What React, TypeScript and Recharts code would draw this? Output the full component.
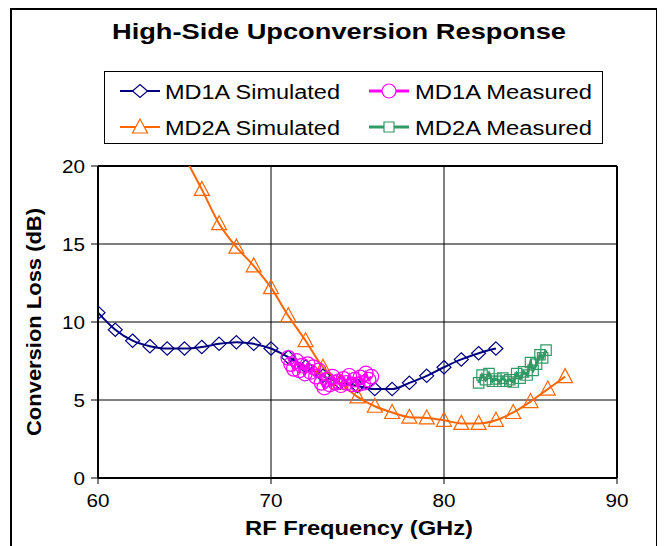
import React from 'react';
import { LineChart, Line, XAxis, YAxis, CartesianGrid, Legend, ReferenceLine } from 'recharts';

const chartTitle = 'High-Side Upconversion Response';
const xAxisTitle = 'RF Frequency (GHz)';
const yAxisTitle = 'Conversion Loss (dB)';
const xTicks = [60, 70, 80, 90];
const yTicks = [0, 5, 10, 15, 20];
const seriesNames = ['MD1A Simulated', 'MD1A Measured', 'MD2A Simulated', 'MD2A Measured'];

const md1aSimX = [60, 61, 62, 63, 64, 65, 66, 67, 68, 69, 70, 71, 72, 73, 74, 75, 76, 77, 78, 79, 80, 81, 82, 83];
const md1aSimY = [10.6, 9.5, 8.8, 8.45, 8.3, 8.3, 8.4, 8.6, 8.7, 8.6, 8.3, 7.75, 7.15, 6.55, 6.1, 5.9, 5.7, 5.7, 6.1, 6.55, 7.1, 7.6, 8.0, 8.3];

const md2aSimX = [65, 66, 67, 68, 69, 70, 71, 72, 73, 74, 75, 76, 77, 78, 79, 80, 81, 82, 83, 84, 85, 86, 87];
const md2aSimY = [20.6, 18.5, 16.3, 14.8, 13.6, 12.2, 10.4, 8.8, 7.1, 6.1, 5.2, 4.6, 4.2, 3.9, 3.85, 3.7, 3.5, 3.5, 3.7, 4.2, 4.9, 5.7, 6.5];

const md1aMeasX = [71.0, 71.16, 71.32, 71.48, 71.64, 71.8, 71.96, 72.12, 72.28, 72.44, 72.6, 72.76, 72.92, 73.08, 73.24, 73.4, 73.56, 73.72, 73.88, 74.04, 74.2, 74.36, 74.52, 74.68, 74.84, 75.0, 75.16, 75.32, 75.48, 75.64, 75.8];
const md1aMeasY = [7.7, 7.3, 7.0, 7.5, 6.9, 7.2, 6.7, 7.3, 6.8, 7.1, 6.5, 6.9, 6.1, 5.8, 6.3, 6.0, 6.5, 6.1, 6.2, 5.95, 6.35, 6.1, 6.55, 6.0, 6.3, 6.0, 6.45, 6.1, 6.7, 6.3, 6.5];

const md2aMeasX = [82.0, 82.2, 82.4, 82.6, 82.8, 83.0, 83.2, 83.4, 83.6, 83.8, 84.0, 84.2, 84.4, 84.6, 84.8, 85.0, 85.15, 85.35, 85.55, 85.7, 85.9];
const md2aMeasY = [6.1, 6.6, 6.3, 6.7, 6.2, 6.35, 6.2, 6.4, 6.2, 6.3, 6.15, 6.7, 6.4, 6.8, 6.6, 7.4, 6.9, 7.3, 7.9, 7.7, 8.2];

const rows = (xs: number[], ys: number[]) => xs.map((x, i) => ({ x, y: ys[i] }));
const md1aSim = rows(md1aSimX, md1aSimY);
const md2aSim = rows(md2aSimX, md2aSimY);
const md1aMeas = rows(md1aMeasX, md1aMeasY);
const md2aMeas = rows(md2aMeasX, md2aMeasY);

const NAVY = '#000080';
const ORANGE = '#FF6600';
const MAGENTA = '#FF00FF';
const GREEN = '#339966';
const FONT = '"Liberation Sans", Arial, sans-serif';

const diamondPath = (cx: number, cy: number, w = 7, h = 6.7) =>
  `M${cx},${cy - h}L${cx + w},${cy}L${cx},${cy + h}L${cx - w},${cy}Z`;
const trianglePath = (cx: number, cy: number) =>
  `M${cx},${cy - 8}L${cx + 7.5},${cy + 6}L${cx - 7.5},${cy + 6}Z`;
const squarePath = (cx: number, cy: number, s = 5.2) =>
  `M${cx - s},${cy - s}L${cx + s},${cy - s}L${cx + s},${cy + s}L${cx - s},${cy + s}Z`;

const makeDot = (kind: string, color: string) => (props: any) => {
  const { cx, cy, index } = props;
  if (cx == null || cy == null || isNaN(cx) || isNaN(cy)) return <g key={`e${index}`} />;
  if (kind === 'circle')
    return <circle key={`c${index}`} cx={cx} cy={cy} r={7.3} fill="none" stroke={color} strokeWidth={1.2} />;
  const d = kind === 'diamond' ? diamondPath(cx, cy) : kind === 'triangle' ? trianglePath(cx, cy) : squarePath(cx, cy);
  return <path key={`p${index}`} d={d} fill="none" stroke={color} strokeWidth={1.2} />;
};

const SText = ({ x, y, len, size, bold, anchor = 'start', transform, children }: any) => (
  <text
    x={x}
    y={y}
    fontFamily={FONT}
    fontSize={size}
    fontWeight={bold ? 700 : 400}
    textAnchor={anchor}
    textLength={len}
    lengthAdjust="spacingAndGlyphs"
    transform={transform}
    fill="#000"
  >
    {children}
  </text>
);

const YTick = (props: any) => {
  const { x, y, payload } = props;
  const s = String(payload.value);
  return (
    <SText x={x} y={y + 6.5} size={18} anchor="end" len={s.length * 11.5}>
      {s}
    </SText>
  );
};

const XTick = (props: any) => {
  const { x, y, payload } = props;
  const s = String(payload.value);
  return (
    <SText x={x} y={y + 13} size={18} anchor="middle" len={s.length * 11.5}>
      {s}
    </SText>
  );
};

const LegendIcon = ({ x, y, kind, color, width }: any) => {
  let marker: any;
  if (kind === 'diamond') marker = <path d={diamondPath(x + 20, y, 7.5, 6.5)} fill="#fff" stroke={color} strokeWidth={1.2} />;
  else if (kind === 'triangle') marker = <path d={trianglePath(x + 20, y)} fill="#fff" stroke={color} strokeWidth={1.2} />;
  else if (kind === 'circle') marker = <circle cx={x + 20} cy={y} r={7} fill="#fff" stroke={color} strokeWidth={1.2} />;
  else marker = <path d={squarePath(x + 20, y, 5)} fill="#fff" stroke={color} strokeWidth={1.2} />;
  return (
    <g>
      <line x1={x} x2={x + 40} y1={y} y2={y} stroke={color} strokeWidth={width} />
      {marker}
    </g>
  );
};

const LegendBox = () => (
  <svg width={499} height={73} style={{ display: 'block' }}>
    <rect x={0.5} y={0.5} width={498} height={72} fill="#fff" stroke="#000" strokeWidth={1} />
    <LegendIcon x={16} y={20} kind="diamond" color={NAVY} width={2} />
    <SText x={61} y={28} size={20} len={175}>{seriesNames[0]}</SText>
    <LegendIcon x={265} y={20} kind="circle" color={MAGENTA} width={3} />
    <SText x={311} y={28} size={20} len={177}>{seriesNames[1]}</SText>
    <LegendIcon x={16} y={56} kind="triangle" color={ORANGE} width={2} />
    <SText x={61} y={64} size={20} len={175}>{seriesNames[2]}</SText>
    <LegendIcon x={265} y={56} kind="square" color={GREEN} width={3} />
    <SText x={311} y={64} size={20} len={177}>{seriesNames[3]}</SText>
  </svg>
);

export default function App() {
  return (
    <div style={{ position: 'relative', width: 650, height: 538, overflow: 'hidden', background: '#fff' }}>
      <div
        style={{
          position: 'absolute',
          left: 2,
          top: 0,
          width: 644,
          height: 560,
          border: '2px solid #000',
        }}
      />
      <div style={{ position: 'absolute', left: 0, top: 0 }}>
        <LineChart width={650} height={538} margin={{ top: 158, right: 41, bottom: 38, left: 30 }}>
          <text x={331} y={31} fontFamily={FONT} fontSize={22} fontWeight={700} textAnchor="middle" textLength={454} lengthAdjust="spacingAndGlyphs">
            {chartTitle}
          </text>
          <CartesianGrid
            yAxisId="main"
            stroke="#000"
            strokeWidth={1}
            horizontalValues={[5, 10, 15]}
            verticalValues={[70, 80]}
          />
          <XAxis
            type="number"
            dataKey="x"
            domain={[60, 90]}
            ticks={xTicks}
            allowDataOverflow
            height={30}
            tickSize={6}
            tickMargin={10}
            tick={<XTick />}
            axisLine={{ stroke: '#000', strokeWidth: 2 }}
            tickLine={{ stroke: '#000' }}
            label={{
              content: () => (
                <SText x={351} y={527} size={21} bold anchor="middle" len={228}>
                  {xAxisTitle}
                </SText>
              ),
            }}
          />
          <YAxis
            yAxisId="main"
            type="number"
            domain={[0, 20]}
            ticks={yTicks}
            width={60}
            tickSize={7}
            tickMargin={6}
            tick={<YTick />}
            axisLine={{ stroke: '#000', strokeWidth: 2 }}
            tickLine={{ stroke: '#000' }}
            label={{
              content: () => (
                <SText x={0} y={0} size={20} bold anchor="middle" len={228} transform="translate(33,314) rotate(-90)">
                  {yAxisTitle}
                </SText>
              ),
            }}
          />
          <YAxis yAxisId="clip" orientation="right" width={0} type="number" domain={[0, 20]} allowDataOverflow hide />
          <ReferenceLine yAxisId="main" y={20} stroke="#000" strokeWidth={2} />
          <ReferenceLine yAxisId="main" x={90} stroke="#000" strokeWidth={2} />
          <Line
            yAxisId="main"
            data={md1aSim}
            dataKey="y"
            name={seriesNames[0]}
            type="monotone"
            stroke={NAVY}
            strokeWidth={2}
            dot={makeDot('diamond', NAVY)}
            activeDot={false}
            isAnimationActive={false}
          />
          <Line
            yAxisId="clip"
            data={md2aSim}
            dataKey="y"
            name={seriesNames[2]}
            type="monotone"
            stroke={ORANGE}
            strokeWidth={2}
            dot={makeDot('triangle', ORANGE)}
            activeDot={false}
            isAnimationActive={false}
          />
          <Line
            yAxisId="main"
            data={md1aMeas}
            dataKey="y"
            name={seriesNames[1]}
            type="linear"
            stroke={MAGENTA}
            strokeWidth={2.5}
            dot={makeDot('circle', MAGENTA)}
            activeDot={false}
            isAnimationActive={false}
          />
          <Line
            yAxisId="main"
            data={md2aMeas}
            dataKey="y"
            name={seriesNames[3]}
            type="linear"
            stroke={GREEN}
            strokeWidth={3}
            dot={makeDot('square', GREEN)}
            activeDot={false}
            isAnimationActive={false}
          />
          <Legend
            layout="horizontal"
            verticalAlign="middle"
            align="center"
            content={() => <LegendBox />}
            wrapperStyle={{ position: 'absolute', left: 96, top: 63, width: 499, height: 73 }}
          />
        </LineChart>
      </div>
    </div>
  );
}
